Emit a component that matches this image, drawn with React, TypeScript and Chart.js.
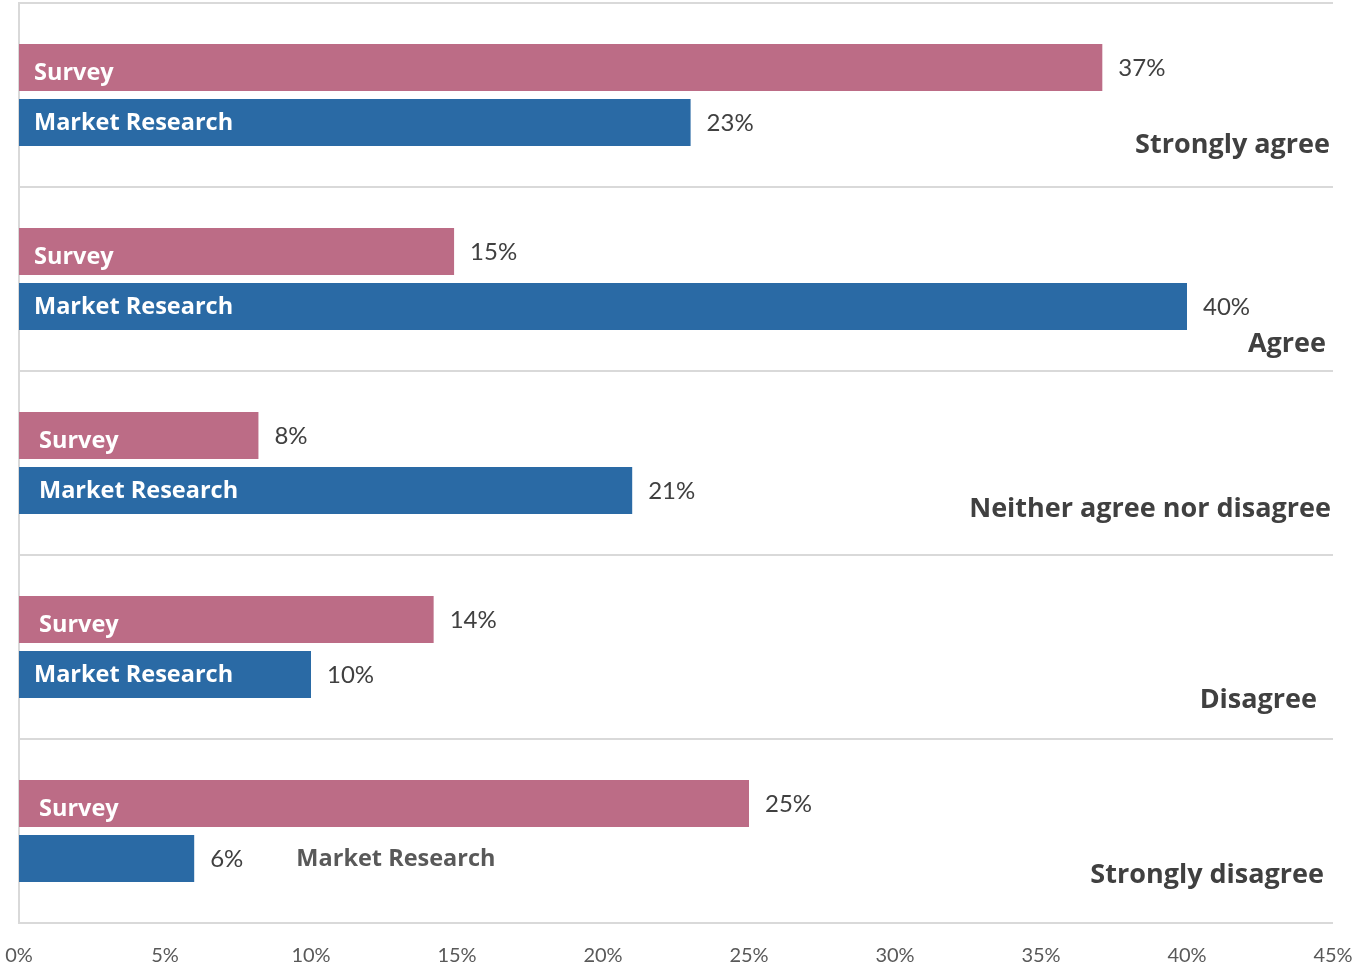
import React, { useEffect, useRef } from "react";
import { Chart, registerables } from "chart.js";

Chart.register(...registerables);

const categories = ["Strongly agree", "Agree", "Neither agree nor disagree", "Disagree", "Strongly disagree"];
const seriesNames = ["Survey", "Market Research"];
const surveyValues = [37.1, 14.9, 8.2, 14.2, 25];
const marketValues = [23, 40, 21, 10, 6];
const surveyValueLabels = ["37%", "15%", "8%", "14%", "25%"];
const marketValueLabels = ["23%", "40%", "21%", "10%", "6%"];
const xMin = 0;
const xMax = 45;
const xStep = 5;

const SURVEY_COLOR = "#BC6C86";
const MARKET_COLOR = "#2A6AA5";
const TEXT_DARK = "#404040";
const GRID = "#D9D9D9";

// Cosmetic label placement tweaks (style, not data)
const innerIndentSurvey = [15, 15, 20, 20, 20];
const innerIndentMarket = [15, 15, 20, 15, 15];
const innerDy = [6, 1];
const catLabelDy = [140, 155, 136, 143, 134];
const catLabelRight = [1330, 1326, 1331, 1317, 1324];

const labelPlugin = {
  id: "customLabels",
  afterDatasetsDraw(chart: any) {
    const ctx = chart.ctx;
    const yScale = chart.scales.y;
    const valueLabels = [surveyValueLabels, marketValueLabels];
    const indents = [innerIndentSurvey, innerIndentMarket];
    ctx.save();
    chart.data.datasets.forEach((ds: any, di: number) => {
      const meta = chart.getDatasetMeta(di);
      meta.data.forEach((bar: any, i: number) => {
        const { x, y, base } = bar.getProps(["x", "y", "base"], true);
        ctx.font = "24px Lato, 'Open Sans', sans-serif";
        ctx.fillStyle = TEXT_DARK;
        ctx.textAlign = "left";
        ctx.textBaseline = "middle";
        const vx = x + 16;
        ctx.fillText(valueLabels[di][i], vx, y + 1);
        const vw = ctx.measureText(valueLabels[di][i]).width;
        ctx.font = "bold 23.5px 'Open Sans', Lato, sans-serif";
        const name = seriesNames[di];
        const nw = ctx.measureText(name).width;
        const indent = indents[di][i];
        if (nw + indent * 2 < x - base) {
          ctx.fillStyle = "#FFFFFF";
          ctx.fillText(name, base + indent, y + innerDy[di]);
        } else {
          ctx.fillStyle = "#595959";
          ctx.fillText(name, vx + vw + 53, y + 1);
        }
      });
    });
    ctx.font = "bold 27px 'Open Sans', Lato, sans-serif";
    ctx.fillStyle = TEXT_DARK;
    ctx.textAlign = "right";
    ctx.textBaseline = "middle";
    const n = categories.length;
    const catH = (yScale.bottom - yScale.top) / n;
    categories.forEach((c, i) => {
      const top = yScale.getPixelForValue(i) - catH / 2;
      ctx.fillText(c, catLabelRight[i], top + catLabelDy[i] + 2);
    });
    ctx.restore();
  },
};

export default function App() {
  const ref = useRef<HTMLCanvasElement | null>(null);
  useEffect(() => {
    if (!ref.current) return;
    const chart = new Chart(ref.current, {
      type: "bar",
      data: {
        labels: categories,
        datasets: [
          {
            label: seriesNames[0],
            data: surveyValues,
            backgroundColor: SURVEY_COLOR,
            barPercentage: 0.855,
            categoryPercentage: 0.598,
          },
          {
            label: seriesNames[1],
            data: marketValues,
            backgroundColor: MARKET_COLOR,
            barPercentage: 0.855,
            categoryPercentage: 0.598,
          },
        ],
      },
      options: {
        indexAxis: "y",
        animation: false,
        responsive: true,
        maintainAspectRatio: false,
        layout: { padding: { top: 3, right: 37, left: 0, bottom: 0 } },
        plugins: {
          legend: { display: false },
          tooltip: { enabled: false },
        },
        scales: {
          x: {
            min: xMin,
            max: xMax,
            ticks: {
              stepSize: xStep,
              callback: (v: any) => v + "%",
              color: "#595959",
              font: { family: "Lato, 'Open Sans', sans-serif", size: 20 },
              padding: 21,
              maxRotation: 0,
            },
            grid: { display: false, drawTicks: false },
            border: { display: false },
            afterFit: (s: any) => {
              s.height = 45;
              s.paddingLeft = 0;
              s.paddingRight = 0;
            },
          },
          y: {
            ticks: { display: false },
            grid: { color: GRID, lineWidth: 2, drawTicks: false, offset: true },
            border: { display: true, color: GRID, width: 2 },
            afterFit: (s: any) => {
              s.width = 19;
            },
          },
        },
      },
      plugins: [labelPlugin],
    });
    return () => chart.destroy();
  }, []);
  return (
    <div style={{ position: "absolute", left: 0, top: 0, width: 1370, height: 968, background: "#fff" }}>
      <canvas ref={ref} />
    </div>
  );
}
